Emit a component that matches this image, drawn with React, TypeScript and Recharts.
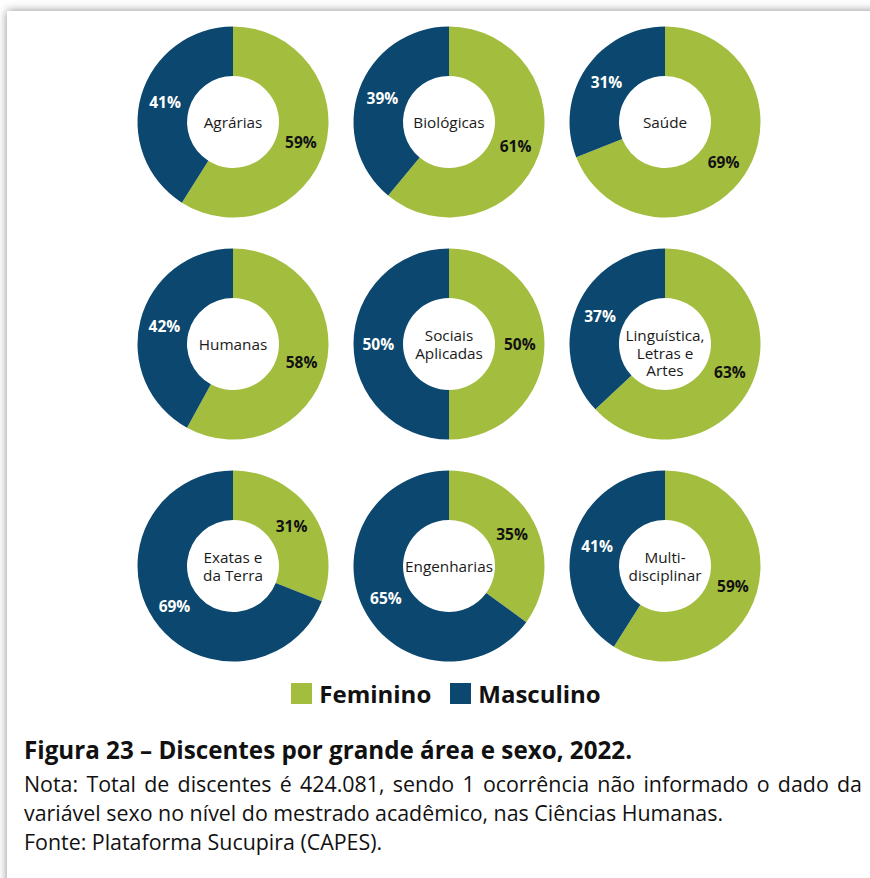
import React from "react";
import { PieChart, Pie, Cell } from "recharts";

const areas = [
  "Agrárias",
  "Biológicas",
  "Saúde",
  "Humanas",
  "Sociais\nAplicadas",
  "Linguística,\nLetras e\nArtes",
  "Exatas e\nda Terra",
  "Engenharias",
  "Multi-\ndisciplinar",
];
const feminino = [59, 61, 69, 58, 50, 63, 31, 35, 59];
const masculino = [41, 39, 31, 42, 50, 37, 69, 65, 41];
const seriesNames = ["Feminino", "Masculino"];
const seriesColors = ["#a3bd3f", "#0b476e"];
const labelColors = ["#111111", "#ffffff"];

const titleText = "Figura 23 – Discentes por grande área e sexo, 2022.";
const noteText =
  "Nota: Total de discentes é 424.081, sendo 1 ocorrência não informado o dado da variável sexo no nível do mestrado acadêmico, nas Ciências Humanas.";
const sourceText = "Fonte: Plataforma Sucupira (CAPES).";

const RAD = Math.PI / 180;
const FONT = "'Open Sans', 'Noto Sans', sans-serif";

const makeLabel = (area: string) => (props: any) => {
  const { cx, cy, midAngle, value, index } = props;
  const inner = props.innerRadius ?? 46;
  const outer = props.outerRadius ?? 95.5;
  const r = (inner + outer) / 2;
  const x = cx + r * Math.cos(-midAngle * RAD);
  const y = cy + r * Math.sin(-midAngle * RAD);
  const lines = area.split("\n");
  const lh = 17.6;
  const start = lines.length > 1 ? -lh / 2 : 0;
  return (
    <g>
      <text
        x={x}
        y={y}
        textAnchor="middle"
        dominantBaseline="central"
        fill={labelColors[index]}
        fontFamily={FONT}
        fontWeight={700}
        fontSize={15.5}
      >
        {value}%
      </text>
      {index === 0 && (
        <text
          x={cx}
          y={cy + start}
          textAnchor="middle"
          dominantBaseline="central"
          fill="#1a1a1a"
          fontFamily={FONT}
          fontSize={15.3}
        >
          {lines.map((ln, i) => (
            <tspan key={i} x={cx} dy={i === 0 ? 0 : lh}>
              {ln}
            </tspan>
          ))}
        </text>
      )}
    </g>
  );
};

export default function App() {
  return (
    <div
      style={{
        position: "relative",
        width: 870,
        height: 878,
        background: "#ffffff",
        overflow: "hidden",
        margin: 0,
      }}
    >
      <style>{"body{margin:0;}"}</style>
      <div
        style={{
          position: "absolute",
          left: 7,
          top: 11,
          width: 900,
          height: 900,
          background: "#ffffff",
          boxShadow: "0 0 9px rgba(0,0,0,0.45)",
        }}
      />
      <div style={{ position: "absolute", left: 0, top: 0 }}>
        <PieChart width={870} height={680} margin={{ top: 0, right: 0, bottom: 0, left: 0 }}>
          {areas.map((area, i) => {
            const col = i % 3;
            const row = Math.floor(i / 3);
            const data = [
              { name: seriesNames[0], value: feminino[i] },
              { name: seriesNames[1], value: masculino[i] },
            ];
            return (
              <Pie
                key={area}
                data={data}
                dataKey="value"
                cx={233 + col * 216}
                cy={122 + row * 222}
                innerRadius={46}
                outerRadius={95.5}
                startAngle={90}
                endAngle={-270}
                stroke="none"
                labelLine={false}
                label={makeLabel(area)}
                isAnimationActive={false}
              >
                {data.map((d, j) => (
                  <Cell key={j} fill={seriesColors[j]} />
                ))}
              </Pie>
            );
          })}
        </PieChart>
      </div>
      <div
        style={{
          position: "absolute",
          left: 0,
          top: 676,
          width: 892,
          height: 34,
          display: "flex",
          justifyContent: "center",
          alignItems: "center",
          fontFamily: FONT,
          fontWeight: 700,
          fontSize: 24,
          color: "#111",
        }}
      >
        {seriesNames.map((s, i) => (
          <div
            key={s}
            style={{ display: "flex", alignItems: "center", marginLeft: i ? 19 : 0 }}
          >
            <div
              style={{
                width: 21,
                height: 21,
                background: seriesColors[i],
                marginRight: 7,
              }}
            />
            <span>{s}</span>
          </div>
        ))}
      </div>
      <div
        style={{
          position: "absolute",
          left: 24,
          top: 733,
          width: 838,
          fontFamily: FONT,
          color: "#111",
        }}
      >
        <div style={{ fontWeight: 700, fontSize: 24.2, lineHeight: "34px" }}>{titleText}</div>
        <div
          style={{
            fontSize: 21.4,
            lineHeight: "29px",
            marginTop: 2,
            textAlign: "justify",
            textAlignLast: "left",
          }}
        >
          {noteText}
        </div>
        <div style={{ fontSize: 21.4, lineHeight: "29px" }}>{sourceText}</div>
      </div>
    </div>
  );
}
